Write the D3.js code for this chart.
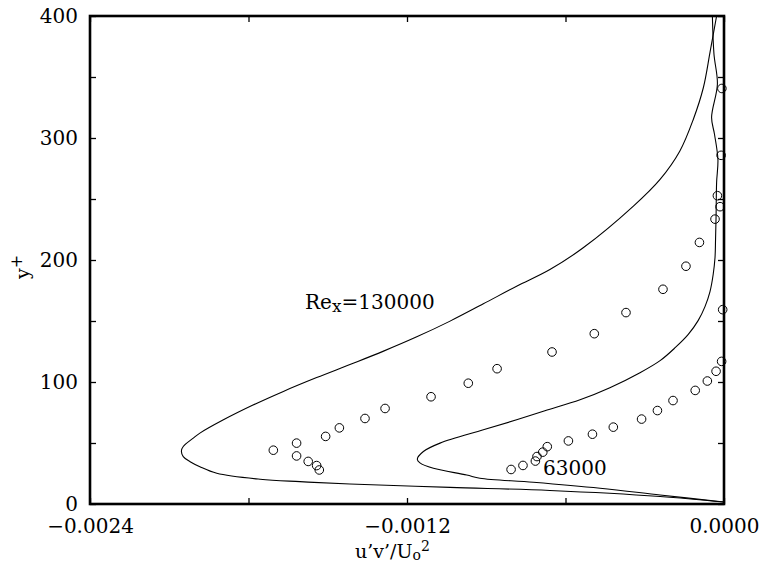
<!DOCTYPE html>
<html><head><meta charset="utf-8">
<script src="https://cdn.jsdelivr.net/npm/d3@7"></script>
<style>body{margin:0;background:#fff}svg{display:block}text{font-family:"DejaVu Serif",serif;fill:#000}</style>
</head><body>
<script>
// Re_x = 130000 profile (y+, u'v'/Uo^2)
const curve130Y = [1.6, 6.2, 11.1, 13.6, 16.4, 18.3, 20.3, 25.2, 30.6, 34.7, 38.8, 43.5, 47.1, 54.0, 58.1, 69.0, 81.1, 92.3, 103.6, 114.3, 125.1, 137.0, 149.9, 164.1, 178.5, 192.2, 210.0, 244.2, 266.1, 289.4, 315.4, 341.4, 370.2, 400];
const curve130X = [0, -0.000242, -0.000659, -0.001037, -0.001416, -0.001605, -0.001756, -0.001920, -0.001984, -0.002021, -0.002047, -0.002054, -0.002047, -0.002009, -0.001984, -0.001895, -0.001783, -0.001668, -0.001542, -0.001416, -0.001291, -0.001163, -0.001037, -0.000911, -0.000785, -0.000659, -0.000533, -0.000343, -0.000242, -0.000167, -0.000116, -0.000078, -0.000053, -0.000028];
// Re_x = 63000 profile
const curve63Y = [1.6, 7.4, 12.9, 17.8, 21.1, 23.8, 29.3, 33.7, 36.7, 43.0, 49.9, 60.8, 69.0, 76.4, 85.4, 95.3, 107.6, 117.5, 128.1, 138.8, 150.3, 161.8, 174.1, 188.1, 202.1, 216.8, 235.7, 263.4, 282.5, 303.1, 316.8, 344.1, 368.8, 400];
const curve63X = [0, -0.000242, -0.000469, -0.000722, -0.000924, -0.000974, -0.001100, -0.001151, -0.001161, -0.001138, -0.001075, -0.000911, -0.000785, -0.000678, -0.000545, -0.000432, -0.000318, -0.000242, -0.000185, -0.000136, -0.000098, -0.000072, -0.000053, -0.000041, -0.000034, -0.000032, -0.000030, -0.000028, -0.000023, -0.000036, -0.000047, -0.000025, -0.000038, -0.000044];
// measured points, set 1
const pts1X = [-0.001706, -0.001618, -0.001618, -0.001574, -0.001542, -0.001532, -0.001508, -0.001456, -0.001359, -0.001283, -0.001109, -0.000968, -0.000859, -0.000651, -0.000491, -0.000371, -0.000231, -0.000144, -0.000093, -0.000034, -0.000015, -0.000025, -0.000011, -0.000008];
const pts1Y = [44.1, 49.9, 39.4, 34.9, 31.5, 27.9, 55.4, 62.4, 70.1, 78.3, 87.9, 99.0, 110.9, 124.6, 139.6, 156.9, 176.0, 194.9, 214.4, 233.5, 243.7, 252.7, 285.8, 340.6];
// measured points, set 2
const pts2X = [-0.000806, -0.000761, -0.000714, -0.000708, -0.000686, -0.000669, -0.000589, -0.000498, -0.000419, -0.000312, -0.000252, -0.000193, -0.000109, -0.000063, -0.000030, -0.000009, -0.000005];
const pts2Y = [28.3, 31.6, 35.2, 38.9, 42.5, 47.0, 51.7, 57.2, 63.0, 69.6, 76.6, 84.8, 93.1, 100.8, 108.8, 116.9, 159.3];
const xTickVals = [-0.0024, -0.0018, -0.0012, -0.0006, 0];
const xTickLabels = ["\u22120.0024", "", "\u22120.0012", "", "0.0000"];
const yTickVals = [0, 50, 100, 150, 200, 250, 300, 350, 400];
const yTickLabels = ["0", "", "100", "", "200", "", "300", "", "400"];

const W = 765, H = 565;
const L = 90, R = 724, T = 16, B = 504;
const svg = d3.select("body").append("svg").attr("width", W).attr("height", H);
const x = d3.scaleLinear().domain([-0.0024, 0]).range([L, R]);
const y = d3.scaleLinear().domain([0, 400]).range([B, T]);

const tl = 6;
const axB = d3.axisBottom(x).tickValues(xTickVals).tickSize(-tl).tickFormat((d,i)=>xTickLabels[i]).tickPadding(15);
const axT = d3.axisTop(x).tickValues(xTickVals).tickSize(-tl).tickFormat("");
const axL = d3.axisLeft(y).tickValues(yTickVals).tickSize(-tl).tickFormat((d,i)=>yTickLabels[i]).tickPadding(12);
const axR = d3.axisRight(y).tickValues(yTickVals).tickSize(-tl).tickFormat("");

function style(g){ g.select(".domain").remove(); g.selectAll(".tick line").attr("stroke","#000").attr("stroke-width",1.3); g.selectAll("text").attr("font-size",20).attr("font-family","DejaVu Serif").attr("fill","#000"); }
svg.append("g").attr("transform",`translate(0,${B})`).call(axB).call(style);
svg.append("g").attr("transform",`translate(0,${T})`).call(axT).call(style);
svg.append("g").attr("transform",`translate(${L},0)`).call(axL).call(style);
svg.append("g").attr("transform",`translate(${R},0)`).call(axR).call(style);

const line = d3.line().x(d=>x(d[0])).y(d=>y(d[1])).curve(d3.curveCatmullRom.alpha(0.5));
const c130 = curve130X.map((v,i)=>[v, curve130Y[i]]);
const c63 = curve63X.map((v,i)=>[v, curve63Y[i]]);
[c130, c63].forEach(c=>svg.append("path").attr("d", line(c)).attr("fill","none").attr("stroke","#000").attr("stroke-width",1.1));

const pts = pts1X.map((v,i)=>[v, pts1Y[i]]).concat(pts2X.map((v,i)=>[v, pts2Y[i]]));
svg.append("g").selectAll("circle").data(pts).join("circle")
  .attr("cx", d=>x(d[0])).attr("cy", d=>y(d[1])).attr("r", 4.3)
  .attr("fill","none").attr("stroke","#000").attr("stroke-width",1);

// frame
svg.append("rect").attr("x",L).attr("y",T).attr("width",R-L).attr("height",B-T)
  .attr("fill","none").attr("stroke","#000").attr("stroke-width",2.6);

// annotations
const t1 = svg.append("text").attr("x",305).attr("y",309).attr("font-size",20);
t1.append("tspan").text("Re");
t1.append("tspan").attr("dy",3).attr("font-size",17).text("x");
t1.append("tspan").attr("dy",-3).text("=130000");
svg.append("text").attr("x",543).attr("y",475).attr("font-size",20).text("63000");

// axis titles
const xt = svg.append("text").attr("x",355).attr("y",558).attr("font-size",19);
xt.append("tspan").text("u\u2019v\u2019/U");
xt.append("tspan").attr("dy",2).attr("font-size",14).text("o");
xt.append("tspan").attr("dy",-9).attr("font-size",14).text("2");
const yt = svg.append("text").attr("transform","translate(29,279) rotate(-90)").attr("font-size",19);
yt.append("tspan").text("y");
yt.append("tspan").attr("dy",-7).attr("font-size",16).text("+");
</script>
</body></html>
